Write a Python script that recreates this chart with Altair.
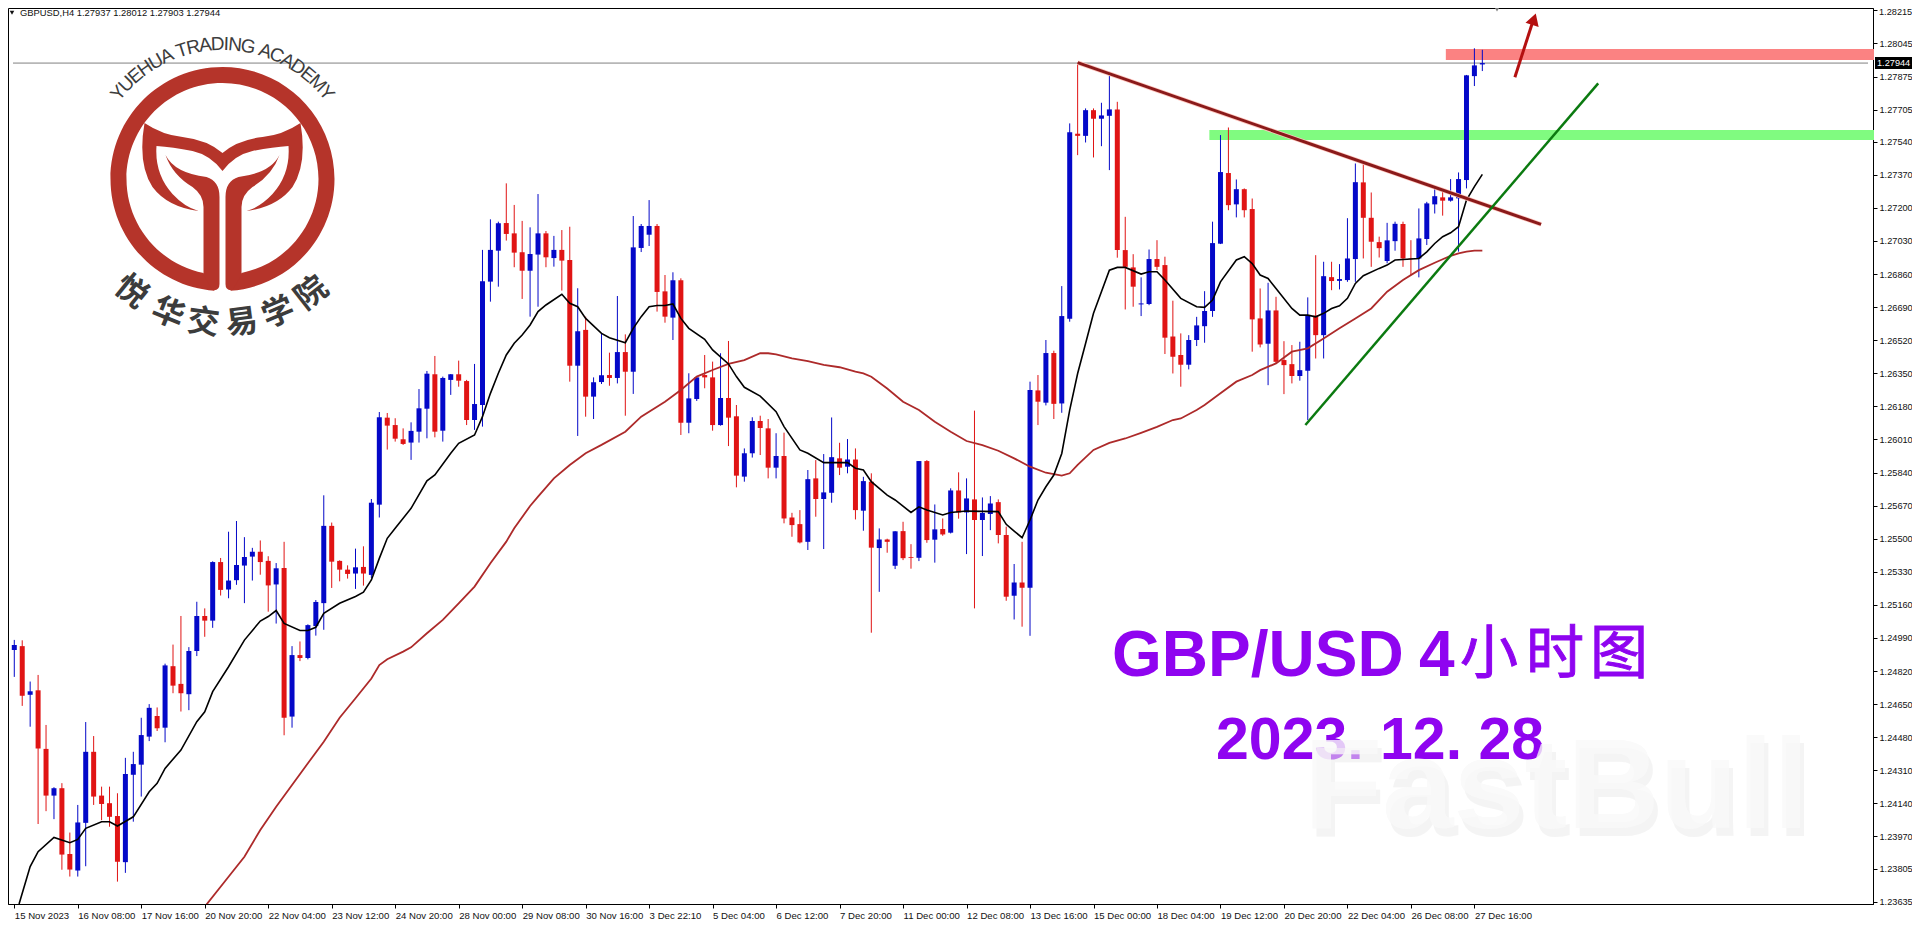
import math
import altair as alt
import pandas as pd

# Quotes are written in units of 0.00001 (fifth decimal of GBP/USD)
open_pts = [
124928,124948,124698,124721,124420,124180,124218,123880,123795,124040,
124405,124180,124141,124075,123838,124287,124339,124483,124589,124529,
124845,124754,124701,124923,125103,125079,125380,125239,125287,125362,
125408,125433,125386,125265,125350,124586,124902,124887,125051,125169,
125566,125386,125341,125321,125355,125314,125675,126122,
126084,126011,125994,126050,126168,126345,126055,126316,126345,126310,126110,126187,126821,126980,127122,127069,126972,126877,126960,127069,126942,126984,126932,126389,126573,126230,126305,126341,126326,126459,126358,126994,127062,127107,126771,126636,126828,126096,126218,126341,126329,126084,126223,126129,125819,125939,126105,126067,125865,
125925,125609,125575,125484,125810,125704,125736,125913,125870,125907,125644,125793,125452,125496,125361,125539,125406,125402,125899,125495,125550,125531,125748,125635,125702,125596,125627,125688,125519,125207,125275,125248,126262,126199,126454,
126195,126630,127581,127570,127702,127658,127673,127706,126983,126894,126704,126706,126937,126906,126539,126444,126394,126521,126592,126670,127016,127379,127218,127296,127194,126632,126502,126673,126418,126397,126336,126363,126646,126546,126844,126825,126829,126937,127331,127149,127024,126927,127029,127117,126940,126940,127040,127218,127254,127237,127249,127343,127877,127937]
high_pts = [
124980,124978,124766,124800,124543,124223,124244,123990,124132,124558,
124486,124226,124226,124192,124374,124405,124580,124650,124633,124858,
124956,125103,124943,125176,125142,125384,125401,125536,125591,125508,
125453,125491,125410,125375,125484,124948,124972,125060,125185,125723,
125583,125389,125363,125449,125461,125704,126151,126146,
126119,126067,126098,126269,126362,126439,126333,126346,126415,126316,126398,126984,127141,127129,127326,127215,127133,127100,127271,127081,127056,127086,127103,126787,126641,126329,126555,126456,126747,126550,127158,127117,127240,127117,126855,126869,126838,126350,126336,126444,126410,126453,126516,126187,125964,126124,126132,126115,126042,
126045,125633,125647,125853,125904,125935,126123,125993,126012,125964,125818,125836,125553,125500,125539,125587,125472,125899,125904,125676,125604,125759,125841,125810,126158,125712,125719,125702,125562,125370,125484,126307,126341,126521,126466,
126798,127634,127946,127711,127711,127740,127899,127745,127154,126962,126843,126986,127034,126949,126723,126555,126546,126640,126772,127129,127574,127613,127346,127300,127248,126786,126815,126743,126515,126495,126512,126740,126957,126923,126923,126911,127147,127428,127428,127279,127052,127123,127129,127129,127034,127197,127231,127300,127283,127348,127382,127883,128020,128012]
low_pts = [
124790,124641,124534,124034,124100,124059,123799,123764,123764,123817,
124132,124054,124020,123738,123783,124046,124175,124460,124512,124454,
124706,124612,124619,124897,124996,125042,125208,125194,125263,125169,
125285,125315,125125,125064,124490,124529,124871,124880,125002,125032,
125247,125281,125295,125242,125259,125298,125609,125958,
125999,125982,125905,125994,126016,126021,125999,126239,126281,126084,126059,126076,126718,126795,127032,126895,126732,126641,126692,126895,126898,126775,126307,126028,126127,126115,126295,126286,126298,126132,126244,126973,127004,126667,126610,126521,126033,126042,126208,126273,126055,126081,125976,125764,125793,125917,125930,125810,125810,
125579,125510,125476,125442,125613,125447,125685,125827,125836,125599,125541,125017,125227,125428,125344,125390,125346,125385,125479,125377,125515,125527,125603,125421,125142,125411,125544,125476,125181,125085,125048,125001,126084,126185,126115,
126147,126615,127471,127536,127459,127517,127394,126944,126678,126692,126644,126700,126880,126449,126349,126281,126370,126490,126507,126640,127014,127188,127151,127151,126461,126483,126289,126401,126243,126298,126312,126110,126426,126426,126777,126781,126820,126820,126940,126897,126945,126915,126980,126897,126855,126843,127009,127171,127160,127232,126975,127300,127826,127903]
close_pts = [
124954,124693,124716,124422,124180,124218,123877,123800,124042,124405,
124175,124137,124071,123840,124291,124342,124491,124631,124526,124849,
124745,124706,124923,125103,125079,125380,125237,125285,125365,125406,
125433,125380,125260,125348,124580,124902,124887,125056,125175,125566,
125382,125341,125319,125353,125321,125685,126124,126081,
126014,125987,126054,126170,126348,126050,126326,126345,126312,126110,126192,126823,126984,127121,127066,126970,126877,126963,127069,126946,126984,126929,126389,126566,126230,126304,126340,126326,126459,126358,126997,127107,127107,126768,126641,126828,126096,126221,126329,126329,126084,126223,126122,125824,125939,126105,126069,125865,125925,
125604,125570,125481,125806,125704,125738,125919,125865,125907,125647,125796,125454,125496,125484,125538,125400,125402,125899,125493,125548,125522,125748,125635,125707,125596,125632,125681,125519,125202,125275,125248,126264,126204,126454,126193,
126644,127589,127570,127702,127658,127675,127706,126983,126897,126795,126709,126937,126897,126533,126435,126394,126521,126596,126670,127019,127384,127214,127296,127188,126627,126498,126673,126409,126392,126336,126366,126646,126546,126849,126824,126834,126940,127332,127149,127026,126993,127033,127118,126940,126937,127043,127223,127260,127237,127254,127348,127881,127932,127944]

fast_idx = [0.6,2,3,5,7,8,9,11,12,13,15,17,18,19,21,23,24,25,27,29,31,32,33,34,36,37,38,39,41,43,44,45,46,47,48,50,52,53,55,56,58,59,60,61,62,63,64,65,66,67,69,70,71,72,74,75,77,78,79,80,81,82,83,84,85,87,88,90,91,92,94,96,97,99,100,102,105,106,107,108,110,111,113,114,115,117,118,120,124,125,126,127,128,129,130,131,132,133,134,135,136,138,139,140,142,143,144,145,147,149,150,151,152,154,155,156,157,158,159,161,162,163,164,165,166,167,168,169,170,172,173,174,176,177,178,179,180,181,182,183,184,185]
fast_pts = [123623,123815,123892,123965,123938,123955,124012,124046,124046,124024,124071,124200,124243,124320,124414,124560,124611,124714,124842,124979,125077,125100,125131,125065,125028,125028,125045,125117,125168,125203,125225,125288,125399,125502,125554,125656,125797,125828,125939,125990,126033,126127,126247,126350,126444,126504,126547,126598,126667,126701,126756,126710,126692,126632,126555,126533,126507,126581,126641,126692,126698,126698,126706,126632,126581,126525,126470,126398,126333,126278,126233,126153,126076,125956,125939,125891,125891,125862,125853,125793,125724,125699,125635,125664,125647,125622,125635,125642,125639,125574,125539,125505,125596,125699,125767,125827,125938,126161,126349,126503,126658,126880,126894,126894,126860,126872,126872,126829,126735,126692,126689,126726,126820,126932,126949,126914,126855,126837,126786,126683,126649,126649,126640,126658,126683,126697,126735,126812,126851,126889,126906,126932,126937,126940,126974,127017,127052,127072,127103,127240,127309,127372]
slow_idx = [24,27,29,31,33,35,37,39,41,43,45,46,47,49,50,52,54,56,58,60,62,63,65,66,68,70,72,74,77,79,82,84,86,88,90,92,94,95,96,98,100,102,104,106,107,108,110,112,114,116,118,120,122,124,126,128,130,132,133,134,136,138,140,142,144,146,147,149,150,152,154,156,157,159,161,163,165,167,169,171,173,175,177,179,180,181,182,183,184,185]
slow_pts = [123609,123763,123866,124003,124123,124234,124346,124457,124580,124680,124782,124851,124881,124920,124942,125014,125083,125168,125254,125374,125485,125554,125668,125716,125810,125879,125939,125982,126050,126127,126204,126264,126333,126367,126398,126418,126453,126453,126447,126427,126412,126393,126381,126358,126349,126332,126272,126204,126161,126101,126050,126002,125981,125952,125913,125870,125839,125824,125836,125879,125956,125992,126015,126044,126075,126110,126118,126161,126187,126247,126307,126341,126366,126401,126461,126478,126529,126581,126632,126683,126769,126829,126880,126918,126936,126953,126966,126975,126980,126980]

x_tick_labels = ["15 Nov 2023","16 Nov 08:00","17 Nov 16:00","20 Nov 20:00","22 Nov 04:00","23 Nov 12:00","24 Nov 20:00","28 Nov 00:00","29 Nov 08:00","30 Nov 16:00","3 Dec 22:10","5 Dec 04:00","6 Dec 12:00","7 Dec 20:00","11 Dec 00:00","12 Dec 08:00","13 Dec 16:00","15 Dec 00:00","18 Dec 04:00","19 Dec 12:00","20 Dec 20:00","22 Dec 04:00","26 Dec 08:00","27 Dec 16:00"]
y_ticks = [1.28215,1.28045,1.27875,1.27705,1.27540,1.27370,1.27200,1.27030,1.26860,1.26690,1.26520,1.26350,1.26180,1.26010,1.25840,1.25670,1.25500,1.25330,1.25160,1.24990,1.24820,1.24650,1.24480,1.24310,1.24140,1.23970,1.23805,1.23635]

resistance_trend_x = [134, 192.4]
resistance_trend_y = [1.27946, 1.27115]
support_trend_x = [162.7, 199.6]
support_trend_y = [1.26084, 1.27840]
arrow_x = [189.1, 191.3]
arrow_y = [1.27871, 1.28150]
last_price = 1.27944

BLUE, RED = "#0408c8", "#e01414"
LOGO = "#b5342a"
INK = "#3c3c3c"
PURPLE = "#8f04f0"
FONT = "Liberation Sans"
CJK = "Noto Sans CJK SC"

PW, PH = 1865, 896
xdom = [-0.163, 233.6]
ydom = [1.23623, 1.28227]
xs = alt.Scale(domain=xdom, nice=False, zero=False)
ys = alt.Scale(domain=ydom, nice=False, zero=False)

df = pd.DataFrame({
    "i": range(len(open_pts)),
    "o": [v / 1e5 for v in open_pts],
    "h": [v / 1e5 for v in high_pts],
    "l": [v / 1e5 for v in low_pts],
    "c": [v / 1e5 for v in close_pts],
})
df["dir"] = ["up" if c >= o else "down" for o, c in zip(df["o"], df["c"])]
color = alt.Color("dir:N", scale=alt.Scale(domain=["up", "down"], range=[BLUE, RED]), legend=None)

label_array = "[" + ",".join("'%s'" % s for s in x_tick_labels) + "]"
axis_x = alt.Axis(values=[8 * k for k in range(len(x_tick_labels))], title=None, grid=False,
                  labelExpr=label_array + "[round(datum.value/8)]", labelAlign="left", labelOverlap=False,
                  labelFlush=False, labelBound=False, labelFont=FONT, labelFontSize=9.6, labelColor="#111111",
                  labelPadding=2, tickSize=4, tickColor="#000000", domainColor="#000000")
# The topmost label sits too near the page edge for the axis, so it is drawn as a text below.
axis_y = alt.Axis(values=y_ticks, orient="right", title=None, grid=False, labelOverlap=False,
                  labelExpr="datum.value > 1.282 ? '' : format(datum.value, '.5f')",
                  labelFlush=False, labelBound=False, labelFont=FONT, labelFontSize=9.2, labelColor="#111111",
                  labelPadding=2, tickSize=4, tickColor="#000000", domainColor="#000000")

X = lambda f="i:Q": alt.X(f, scale=xs, axis=axis_x)
Y = lambda f: alt.Y(f, scale=ys, axis=axis_y)

wicks = alt.Chart(df).mark_rule(strokeWidth=1, clip=True).encode(x=X(), y=Y("l:Q"), y2="h:Q", color=color)
bodies = alt.Chart(df).mark_bar(size=5, clip=True).encode(x=X(), y=Y("o:Q"), y2="c:Q", color=color)

def band(x0, y0, y1, col):
    d = pd.DataFrame({"x0": [x0], "y0": [y0], "y1": [y1]})
    return alt.Chart(d).mark_rect(color=col).encode(x=X("x0:Q"), x2=alt.value(PW + 1), y=Y("y0:Q"), y2="y1:Q")

def seg(xv, yv, col, w, **kw):
    d = pd.DataFrame({"a": xv, "b": yv})
    return alt.Chart(d).mark_line(color=col, strokeWidth=w, clip=True, **kw).encode(x=X("a:Q"), y=Y("b:Q"))

green_band = band(150.6, 1.27600, 1.27549, "#80fb80")
red_band = band(180.4, 1.28016, 1.27960, "#fb8282")
price_line = seg([xdom[0], xdom[1]], [last_price, last_price], "#808080", 1)

fast = seg(fast_idx, [v / 1e5 for v in fast_pts], "#000000", 1.6)
slow = seg(slow_idx, [v / 1e5 for v in slow_pts], "#ad2a2a", 1.8)
res_halo = seg(resistance_trend_x, resistance_trend_y, "#ffc8c0", 4.5)
res_line = seg(resistance_trend_x, resistance_trend_y, "#8a1a1a", 3)
sup_line = seg(support_trend_x, support_trend_y, "#0b7a10", 2.5)
arrow_line = seg(arrow_x, arrow_y, "#b41010", 3)
arrow_head = alt.Chart(pd.DataFrame({"a": [191.5], "b": [1.28170]})).mark_point(
    shape="triangle-up", size=190, angle=18, filled=True, color="#b41010", opacity=1).encode(x=X("a:Q"), y=Y("b:Q"))

one = lambda t: alt.Chart(pd.DataFrame({"t": [t]}))

def txt(t, px, py, size, col, font=FONT, weight="normal", align="left", angle=0, opacity=1.0, **kw):
    return one(t).mark_text(fontSize=size, color=col, font=font, fontWeight=weight, align=align,
                            baseline="middle", angle=angle, opacity=opacity, **kw).encode(
        x=alt.value(px - 8), y=alt.value(py - 8), text="t:N")

def glyph(path, px, py, col, size=4):
    return one("g").mark_point(shape=path, size=size, filled=True, color=col, opacity=1, strokeWidth=0).encode(
        x=alt.value(px - 8), y=alt.value(py - 8))

cx, cy = 222.5, 179
ring = ("M0,-112A112,112,0,0,0,-112,0A112,112,0,0,0,-8,111.7L-19,94A96,96,0,0,1,-96,0A96,96,0,0,1,0,-96Z"
        "M0,-112A112,112,0,0,1,112,0A112,112,0,0,1,8,111.7L19,94A96,96,0,0,0,96,0A96,96,0,0,0,0,-96Z")
stem = ("M-57,-24Q-48,-6,-16,-2Q-3,2,-3,18L-3,105Q-3,112,-10,111L-19,96L-19,28Q-19,16,-30,8Q-50,-4,-57,-24Z"
        "M57,-24Q48,-6,16,-2Q3,2,3,18L3,105Q3,112,10,111L19,96L19,28Q19,16,30,8Q50,-4,57,-24Z")
wing = ("M-78,-56Q-60,-44,-40,-42Q-15,-39,0,-26Q15,-39,40,-42Q60,-44,78,-56Q85,-15,70,8Q55,28,24,32"
        "Q38,28,50,15Q68,-5,66,-33Q50,-32,30,-28Q12,-24,0,-8Q-12,-24,-30,-28Q-50,-32,-66,-33"
        "Q-68,-5,-50,15Q-38,28,-24,32Q-55,28,-70,8Q-85,-15,-78,-56Z")
logo_layers = [glyph(ring, cx, cy, LOGO), glyph(stem, cx, cy, LOGO), glyph(wing, cx, cy, LOGO)]

arc_text = "YUEHUA TRADING ACADEMY"
w_tab = {"Y": .67, "U": .72, "E": .67, "H": .72, "A": .67, " ": .28, "T": .61, "R": .72, "D": .72,
         "I": .28, "N": .72, "G": .78, "C": .72, "M": .83}
tot = sum(w_tab[c] for c in arc_text)
run = 0.0
for ch in arc_text:
    w = w_tab[ch]
    th = -53 + 106 * (run + w / 2) / tot
    run += w
    if ch == " ":
        continue
    r = math.radians(th)
    logo_layers.append(txt(ch, cx + 135 * math.sin(r), cy - 135 * math.cos(r), 19, INK, align="center",
                           angle=(th + 360) % 360))

cn_text = "悦华交易学院"
cn_angles = [39, 22, 7.7, -7.6, -22.7, -38]
for ch, a in zip(cn_text, cn_angles):
    r = math.radians(a)
    logo_layers.append(txt(ch, cx - 145 * math.sin(r), cy + 145 * math.cos(r), 32, INK, font=CJK, weight="bold",
                           align="center", angle=(a + 360) % 360))

texts = [
    txt("GBPUSD,H4  1.27937 1.28012 1.27903 1.27944", 20, 12.8, 9.4, "#111111"),
    txt("1.28215", 1879, 12, 9.2, "#111111"),
    txt("GBP/USD", 1112, 657, 64, PURPLE, weight="bold"),
    txt("4", 1419, 657, 64, PURPLE, weight="bold"),
    txt("小", 1489, 656, 58, PURPLE, font=CJK, align="center", stroke=PURPLE, strokeWidth=1),
    txt("时", 1555, 656, 58, PURPLE, font=CJK, align="center", stroke=PURPLE, strokeWidth=1),
    txt("图", 1619, 656, 58, PURPLE, font=CJK, align="center", stroke=PURPLE, strokeWidth=1),
    txt("2023. 12. 28", 1216, 741, 59, PURPLE, weight="bold"),
    txt("FastBull", 1308, 798, 128, "#ececec", weight="bold", opacity=0.55),
    txt("FastBull", 1304, 790, 128, "#f9f9f9", weight="bold", opacity=0.8),
]

tag_box = one("b").mark_rect(color="#000000", clip=False).encode(
    x=alt.value(1867), x2=alt.value(1904), y=alt.value(49), y2=alt.value(61))
tag_text = txt("1.27944", 1877, 63, 9.2, "#ffffff")
top_mark = one("m").mark_point(shape="triangle-down", size=36, filled=True, color="#808080", opacity=1).encode(
    x=alt.value(1489), y=alt.value(1))
menu_mark = one("m").mark_point(shape="triangle-down", size=20, filled=True, color="#111111", opacity=1).encode(
    x=alt.value(4), y=alt.value(4.8))

chart = alt.layer(
    green_band, red_band, price_line, wicks, bodies, slow, fast, res_halo, res_line, sup_line,
    arrow_line, arrow_head, *logo_layers, *texts, tag_box, tag_text, top_mark, menu_mark,
).properties(
    width=PW, height=PH,
    autosize=alt.AutoSizeParams(type="none"),
    padding={"left": 0, "top": 0, "right": 39, "bottom": 22},
    background="#ffffff",
).configure_view(stroke="#000000", strokeWidth=1)

chart.save("out.html", embed_options={"renderer": "svg", "actions": False})
